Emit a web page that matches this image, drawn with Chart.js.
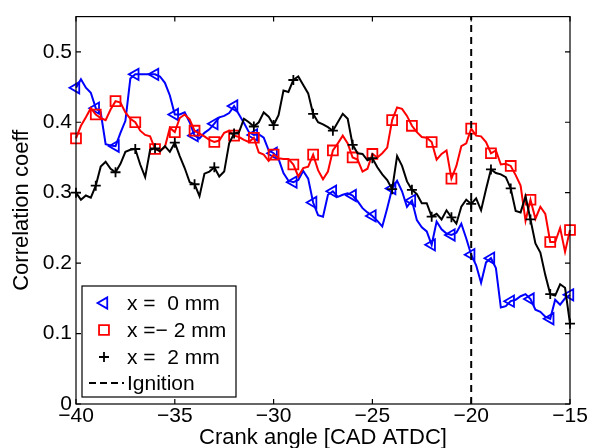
<!DOCTYPE html>
<html><head><meta charset="utf-8">
<script src="https://cdn.jsdelivr.net/npm/chart.js@4.4.0/dist/chart.umd.min.js"></script>
<style>html,body{margin:0;padding:0;background:#fff}#c{display:block}</style>
</head><body>
<canvas id="c" width="590" height="448"></canvas>
<script>
const cad = [-40,-39.75,-39.5,-39.25,-39,-38.75,-38.5,-38.25,-38,-37.75,-37.5,-37.25,-37,-36.75,-36.5,-36.25,-36,-35.75,-35.5,-35.25,
 -35,-34.75,-34.5,-34.25,-34,-33.75,-33.5,-33.25,-33,-32.75,-32.5,-32.25,-32,-31.75,-31.5,-31.25,-31,-30.75,-30.5,-30.25,
 -30,-29.75,-29.5,-29.25,-29,-28.75,-28.5,-28.25,-28,-27.75,-27.5,-27.25,-27,-26.75,-26.5,-26.25,-26,-25.75,-25.5,-25.25,
 -25,-24.75,-24.5,-24.25,-24,-23.75,-23.5,-23.25,-23,-22.75,-22.5,-22.25,-22,-21.75,-21.5,-21.25,-21,-20.75,-20.5,-20.25,
 -20,-19.75,-19.5,-19.25,-19,-18.75,-18.5,-18.25,-18,-17.75,-17.5,-17.25,-17,-16.75,-16.5,-16.25,-16,-15.75,-15.5,-15.25,-15];

const corrX0 = [.449,.461,.449,.442,.420,.414,.369,.367,.366,.385,.402,.462,.468,.468,.468,.468,.468,.465,.456,.438,
 .411,.411,.414,.400,.381,.377,.385,.390,.398,.407,.409,.413,.423,.411,.399,.386,.382,.383,.378,.360,
 .356,.348,.328,.317,.315,.318,.331,.320,.286,.268,.266,.297,.302,.294,.297,.299,.296,.288,.278,.272,
 .267,.260,.252,.278,.306,.317,.302,.280,.289,.261,.251,.245,.226,.259,.248,.242,.240,.243,.256,.235,
 .212,.197,.172,.201,.207,.193,.137,.139,.146,.148,.153,.156,.149,.134,.131,.124,.121,.148,.141,.150,.155];

const corrXm2 = [.377,.395,.407,.420,.411,.406,.403,.418,.430,.428,.414,.405,.400,.388,.382,.380,.362,.359,.365,.392,
 .386,.406,.411,.404,.388,.384,.380,.375,.372,.374,.385,.388,.381,.379,.375,.372,.378,.357,.354,.345,
 .354,.349,.348,.348,.340,.323,.335,.337,.354,.332,.319,.330,.360,.370,.381,.370,.350,.347,.330,.334,
 .355,.350,.356,.364,.403,.421,.419,.409,.395,.386,.379,.378,.372,.347,.355,.360,.320,.338,.366,.370,
 .391,.381,.380,.372,.356,.360,.340,.341,.338,.325,.310,.260,.290,.263,.280,.270,.230,.230,.250,.216,.247];

const corrX2 = [.300,.290,.296,.293,.310,.337,.344,.334,.329,.341,.358,.361,.362,.340,.322,.361,.363,.359,.366,.358,
 .371,.352,.335,.315,.312,.295,.327,.330,.336,.323,.330,.370,.384,.386,.405,.400,.394,.400,.414,.408,
 .396,.410,.445,.443,.460,.465,.453,.441,.412,.400,.397,.393,.388,.400,.412,.405,.368,.356,.355,.346,
 .349,.336,.326,.318,.305,.352,.338,.316,.304,.298,.285,.285,.266,.270,.262,.275,.265,.256,.280,.290,
 .284,.292,.275,.305,.333,.328,.326,.322,.306,.274,.272,.295,.262,.228,.215,.183,.156,.154,.170,.165,.114];

const ignitionX = [-20, -20];
const ignitionY = [0, 0.55];
const xTickValues = [-40, -35, -30, -25, -20, -15];
const yTickValues = [0, 0.1, 0.2, 0.3, 0.4, 0.5];
const legendLabels = ['x =  0 mm', 'x =\u2212 2 mm', 'x =  2 mm', 'Ignition'];

const FONT = "'Liberation Sans', Arial, Helvetica, sans-serif";
const MARK_EVERY = 4;
function pts(ys) { return cad.map((x, i) => ({ x: x, y: ys[i] })); }
function markerRadius(r) { return c => (c.dataIndex % MARK_EVERY === 0 ? r : 0); }

const BLUE = '#0000ff', RED = '#ff0000', BLACK = '#000000';

function drawMarker(ctx, style, x, y, r, color, lw) {
  ctx.save();
  ctx.strokeStyle = color; ctx.lineWidth = lw; ctx.setLineDash([]);
  ctx.beginPath();
  if (style === 'triangle') {
    let rad = -Math.PI / 2;
    ctx.moveTo(x + Math.sin(rad) * r, y - Math.cos(rad) * r);
    rad += 2 * Math.PI / 3;
    ctx.lineTo(x + Math.sin(rad) * r, y - Math.cos(rad) * r);
    rad += 2 * Math.PI / 3;
    ctx.lineTo(x + Math.sin(rad) * r, y - Math.cos(rad) * r);
    ctx.closePath();
  } else if (style === 'rect') {
    const s = Math.SQRT1_2 * r;
    ctx.rect(x - s, y - s, 2 * s, 2 * s);
  } else if (style === 'cross') {
    ctx.moveTo(x - r, y); ctx.lineTo(x + r, y);
    ctx.moveTo(x, y - r); ctx.lineTo(x, y + r);
  }
  ctx.stroke();
  ctx.restore();
}

const boxPlugin = {
  id: 'matlabBox',
  afterDatasetsDraw(chart) {
    const { ctx, chartArea: a, scales } = chart;
    ctx.save();
    ctx.strokeStyle = '#000'; ctx.lineWidth = 1.2; ctx.setLineDash([]);
    ctx.strokeRect(a.left, a.top, a.right - a.left, a.bottom - a.top);
    const tl = 5;
    ctx.beginPath();
    xTickValues.forEach(v => {
      const px = scales.x.getPixelForValue(v);
      ctx.moveTo(px, a.bottom); ctx.lineTo(px, a.bottom - tl);
      ctx.moveTo(px, a.top); ctx.lineTo(px, a.top + tl);
    });
    yTickValues.forEach(v => {
      const py = scales.y.getPixelForValue(v);
      ctx.moveTo(a.left, py); ctx.lineTo(a.left + tl, py);
      ctx.moveTo(a.right, py); ctx.lineTo(a.right - tl, py);
    });
    ctx.stroke();

    // legend
    const L = { x: 82, y: 286, w: 154, h: 111 };
    ctx.fillStyle = '#fff';
    ctx.fillRect(L.x, L.y, L.w, L.h);
    ctx.lineWidth = 1.2;
    ctx.strokeRect(L.x, L.y, L.w, L.h);
    const rows = [303, 330, 357, 383];
    const mx = 104, tx = 127;
    drawMarker(ctx, 'triangle', mx, rows[0], 6.5, BLUE, 1.8);
    drawMarker(ctx, 'rect', mx, rows[1], 7, RED, 1.8);
    drawMarker(ctx, 'cross', mx, rows[2], 5, BLACK, 1.8);
    ctx.save();
    ctx.strokeStyle = BLACK; ctx.lineWidth = 2; ctx.setLineDash([7, 4]);
    ctx.beginPath(); ctx.moveTo(89, rows[3]); ctx.lineTo(124, rows[3]); ctx.stroke();
    ctx.restore();
    ctx.fillStyle = '#000';
    ctx.font = '21px ' + FONT;
    ctx.textAlign = 'left'; ctx.textBaseline = 'middle';
    legendLabels.forEach((t, i) => ctx.fillText(t, tx, rows[i] + 1));
    ctx.restore();
  }
};

function series(label, ys, color, style, r, extra) {
  return Object.assign({
    label: label, data: pts(ys), borderColor: color, borderWidth: 2, tension: 0,
    pointStyle: style, pointRadius: markerRadius(r), pointHoverRadius: 0,
    pointBorderColor: color, pointBackgroundColor: 'rgba(0,0,0,0)', pointBorderWidth: 1.8,
    fill: false, clip: false
  }, extra || {});
}

new Chart(document.getElementById('c'), {
  type: 'line',
  data: {
    datasets: [
      { label: 'Ignition', data: ignitionX.map((x, i) => ({ x: x, y: ignitionY[i] })),
        borderColor: BLACK, borderWidth: 2, borderDash: [7, 5], pointRadius: 0, pointHoverRadius: 0, order: 0 },
      series('x = 2 mm', corrX2, BLACK, 'cross', 5, { order: 1 }),
      series('x = -2 mm', corrXm2, RED, 'rect', 7, { order: 2 }),
      series('x = 0 mm', corrX0, BLUE, 'triangle', 6.5, { order: 3, pointRotation: -90 })
    ]
  },
  options: {
    responsive: false, animation: false, events: [],
    layout: { padding: { top: 12, right: 20, left: 0, bottom: 0 } },
    plugins: { legend: { display: false }, tooltip: { enabled: false } },
    scales: {
      x: {
        type: 'linear', min: -40, max: -15,
        afterBuildTicks: s => { s.ticks = xTickValues.map(v => ({ value: v })); },
        afterFit: s => { s.height = 44; },
        grid: { display: false, drawTicks: false }, border: { display: false },
        ticks: { color: '#000', font: { family: FONT, size: 21, lineHeight: 1 }, padding: 2, maxRotation: 0, autoSkip: false,
          callback: v => (v < 0 ? '\u2212' : '') + Math.abs(v) },
        title: { display: true, text: 'Crank angle [CAD ATDC]', color: '#000',
          font: { family: FONT, size: 22, lineHeight: 1 }, padding: { top: 0, bottom: -1 } }
      },
      y: {
        type: 'linear', min: 0, max: 0.55,
        afterBuildTicks: s => { s.ticks = yTickValues.map(v => ({ value: v })); },
        afterFit: s => { s.width = 76; },
        grid: { display: false, drawTicks: false }, border: { display: false },
        ticks: { color: '#000', font: { family: FONT, size: 21 }, padding: 4,
          callback: v => String(Math.round(v * 10) / 10) },
        title: { display: true, text: 'Correlation coeff', color: '#000',
          font: { family: FONT, size: 22, lineHeight: 1 }, padding: { top: 11, bottom: 0 } }
      }
    }
  },
  plugins: [boxPlugin]
});
</script>
</body></html>
